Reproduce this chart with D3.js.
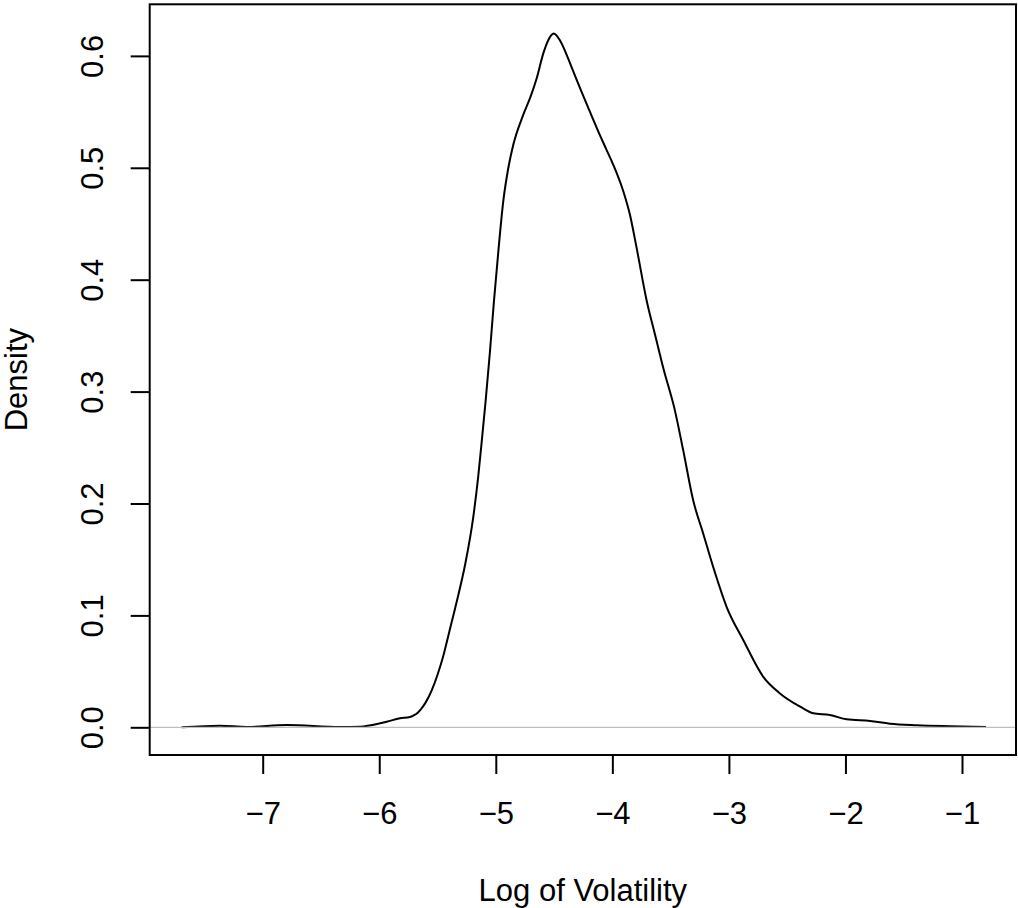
<!DOCTYPE html>
<html lang="en">
<head>
    <meta charset="UTF-8">
    <script src="https://d3js.org/d3.v7.min.js"></script>
    <style>
        body { margin: 0; background: #fff; }
        svg { display: block; font-family: "Liberation Sans", Arial, sans-serif; }
    </style>
    <title>Density of Log Volatility</title>
</head>
<body>
    <div id="graph-div"></div>
    <script>
        // density curve
        const logVol = [-7.695, -7.366, -7.137, -6.794, -6.337, -6.165, -5.993, -5.936, -5.822, -5.736,
                        -5.700, -5.670, -5.640, -5.600, -5.550, -5.500, -5.450, -5.400, -5.336, -5.264,
                        -5.193, -5.150, -5.121, -5.087, -5.050, -5.016, -4.978, -4.936, -4.893, -4.850,
                        -4.764, -4.700, -4.649, -4.593, -4.550, -4.503, -4.450, -4.400, -4.350, -4.300,
                        -4.200, -4.106, -4.050, -3.992, -3.906, -3.849, -3.791, -3.705, -3.634, -3.563,
                        -3.463, -3.391, -3.306, -3.220, -3.134, -3.019, -2.876, -2.705, -2.562, -2.388,
                        -2.276, -2.133, -1.989, -1.789, -1.618, -1.389, -1.103, -0.794];
        const density = [0.0000, 0.0014, 0.0003, 0.0020, 0.0002, 0.0006, 0.0036, 0.0050, 0.0080, 0.0092,
                         0.0108, 0.0130, 0.0165, 0.0225, 0.0330, 0.0470, 0.0640, 0.0850, 0.1120, 0.1450,
                         0.1880, 0.2250, 0.2550, 0.2920, 0.3360, 0.3806, 0.4255, 0.4700, 0.4996, 0.5205,
                         0.5475, 0.5640, 0.5800, 0.6020, 0.6140, 0.6200, 0.6140, 0.6030, 0.5900, 0.5770,
                         0.5520, 0.5290, 0.5160, 0.5027, 0.4790, 0.4580, 0.4280, 0.3810, 0.3510, 0.3210,
                         0.2830, 0.2470, 0.2026, 0.1730, 0.1430, 0.1075, 0.0778, 0.0451, 0.0303, 0.0184,
                         0.0125, 0.0110, 0.0071, 0.0056, 0.0032, 0.0018, 0.0009, 0.0002];
        const xTicks = [-7, -6, -5, -4, -3, -2, -1];
        const yTicks = [0, 0.1, 0.2, 0.3, 0.4, 0.5, 0.6];

        const w = 1018;
        const h = 908;
        const pLeft = 149.7, pRight = 1016, pTop = 4.3, pBottom = 755;
        const fs = 31;

        const xScale = d3.scaleLinear()
                         .domain([-7.9695, -0.5367])
                         .range([pLeft, pRight]);
        const yScale = d3.scaleLinear()
                         .domain([-0.02475, 0.6461])
                         .range([pBottom, pTop]);

        const svg = d3.select("#graph-div")
                      .append("svg")
                      .attr("width", w)
                      .attr("height", h);

        //curve
        const pts = logVol.map((v, i) => [v, density[i]]);
        const line = d3.line()
                       .x(d => xScale(d[0]))
                       .y(d => yScale(d[1]))
                       .curve(d3.curveMonotoneX);
        svg.append("path")
           .datum(pts)
           .attr("d", line)
           .attr("fill", "none")
           .attr("stroke", "#000")
           .attr("stroke-width", 2);

        // zero line goes on top, like R does
        svg.append("line")
           .attr("x1", pLeft).attr("x2", pRight)
           .attr("y1", yScale(0)).attr("y2", yScale(0))
           .attr("stroke", "#bebebe")
           .attr("stroke-width", 1.2);

        //axes
        const xAxis = d3.axisBottom(xScale).tickValues(xTicks).tickSize(19).tickFormat(d3.format("d"));
        const gx = svg.append("g")
           .attr("transform", "translate(0," + pBottom + ")")
           .call(xAxis);
        gx.select(".domain").remove();
        gx.selectAll("line").attr("stroke", "#000").attr("stroke-width", 2);
        gx.selectAll("text")
          .attr("y", 69).attr("dy", 0)
          .attr("fill", "#000")
          .style("font-size", fs + "px")
          .style("font-family", "Liberation Sans, Arial, sans-serif");

        const yAxis = d3.axisLeft(yScale).tickValues(yTicks).tickSize(19).tickFormat(d3.format(".1f"));
        const gy = svg.append("g")
           .attr("transform", "translate(" + pLeft + ",0)")
           .call(yAxis);
        gy.select(".domain").remove();
        gy.selectAll("line").attr("stroke", "#000").attr("stroke-width", 2);
        gy.selectAll("text")
          .attr("x", 0).attr("y", -46.4).attr("dy", 0)
          .attr("transform", "rotate(-90)")
          .attr("text-anchor", "middle")
          .attr("fill", "#000")
          .style("font-size", fs + "px")
          .style("font-family", "Liberation Sans, Arial, sans-serif");

        //box
        svg.append("rect")
           .attr("x", pLeft).attr("y", pTop)
           .attr("width", pRight - pLeft).attr("height", pBottom - pTop)
           .attr("fill", "none")
           .attr("stroke", "#000")
           .attr("stroke-width", 2);

        //labels
        svg.append("text")
           .text("Log of Volatility")
           .attr("x", (pLeft + pRight) / 2)
           .attr("y", 901)
           .attr("text-anchor", "middle")
           .style("font-size", fs + "px");

        svg.append("text")
           .text("Density")
           .attr("transform", "translate(26.7," + ((pTop + pBottom) / 2) + ") rotate(-90)")
           .attr("text-anchor", "middle")
           .style("font-size", fs + "px");
    </script>
</body>
</html>
